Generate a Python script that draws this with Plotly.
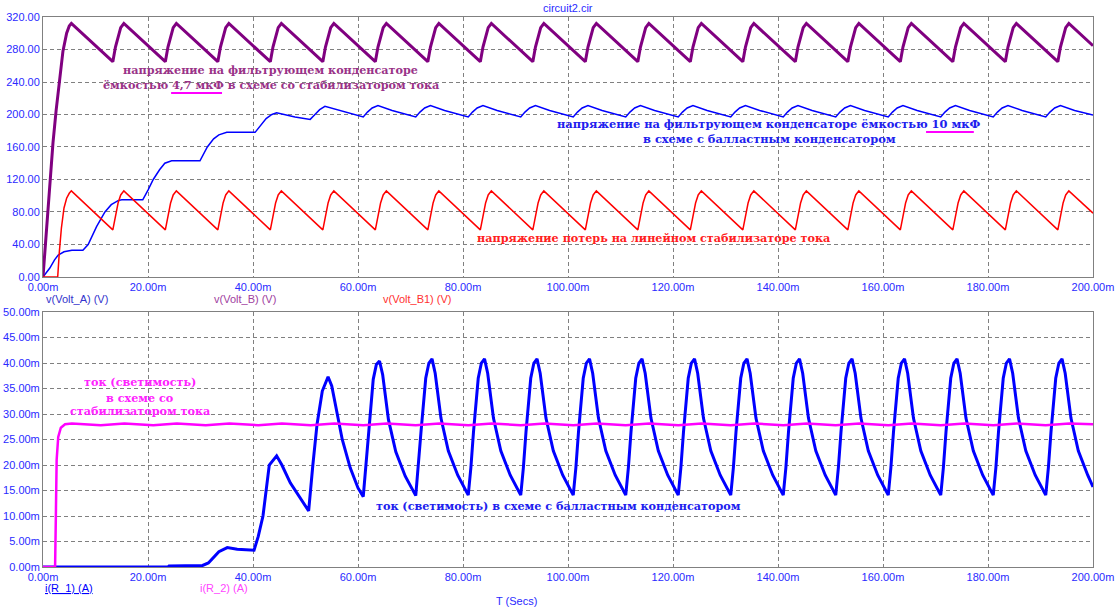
import plotly.graph_objects as go

# time axis in milliseconds, voltages in V, currents in mA

# v(Volt_B): filter cap 4.7uF, circuit with current stabilizer
vb_t = [0, 0.6, 1.3, 1.9, 2.5, 3.1, 3.8, 4.5, 5.0, 5.4,
        13.3, 13.8, 14.3, 14.8, 15.4,
        23.3, 23.8, 24.3, 24.8, 25.4,
        33.3, 33.8, 34.3, 34.8, 35.4,
        43.3, 43.8, 44.3, 44.8, 45.4,
        53.3, 53.8, 54.3, 54.8, 55.4,
        63.3, 63.8, 64.3, 64.8, 65.4,
        73.3, 73.8, 74.3, 74.8, 75.4,
        83.3, 83.8, 84.3, 84.8, 85.4,
        93.3, 93.8, 94.3, 94.8, 95.4,
        103.3, 103.8, 104.3, 104.8, 105.4,
        113.3, 113.8, 114.3, 114.8, 115.4,
        123.3, 123.8, 124.3, 124.8, 125.4,
        133.3, 133.8, 134.3, 134.8, 135.4,
        143.3, 143.8, 144.3, 144.8, 145.4,
        153.3, 153.8, 154.3, 154.8, 155.4,
        163.3, 163.8, 164.3, 164.8, 165.4,
        173.3, 173.8, 174.3, 174.8, 175.4,
        183.3, 183.8, 184.3, 184.8, 185.4,
        193.3, 193.8, 194.3, 194.8, 195.4,
        200.0]
vb_v = [0, 50, 118, 165, 205, 240, 278, 300, 309, 312,
        265, 283, 297, 307, 312,
        265, 283, 297, 307, 312,
        265, 283, 297, 307, 312,
        265, 283, 297, 307, 312,
        265, 283, 297, 307, 312,
        265, 283, 297, 307, 312,
        265, 283, 297, 307, 312,
        265, 283, 297, 307, 312,
        265, 283, 297, 307, 312,
        265, 283, 297, 307, 312,
        265, 283, 297, 307, 312,
        265, 283, 297, 307, 312,
        265, 283, 297, 307, 312,
        265, 283, 297, 307, 312,
        265, 283, 297, 307, 312,
        265, 283, 297, 307, 312,
        265, 283, 297, 307, 312,
        265, 283, 297, 307, 312,
        265, 283, 297, 307, 312,
        284.6]

# v(Volt_B1): loss voltage on the linear current stabilizer (same instants as vb)
vb1_t = [0, 2.8, 3.1, 3.5, 4.0, 4.5, 5.0] + vb_t[9:]
vb1_v = [0, 0, 30, 60, 85, 97, 103, 106,
         58, 77, 91, 101, 106,
         58, 77, 91, 101, 106,
         58, 77, 91, 101, 106,
         58, 77, 91, 101, 106,
         58, 77, 91, 101, 106,
         58, 77, 91, 101, 106,
         58, 77, 91, 101, 106,
         58, 77, 91, 101, 106,
         58, 77, 91, 101, 106,
         58, 77, 91, 101, 106,
         58, 77, 91, 101, 106,
         58, 77, 91, 101, 106,
         58, 77, 91, 101, 106,
         58, 77, 91, 101, 106,
         58, 77, 91, 101, 106,
         58, 77, 91, 101, 106,
         58, 77, 91, 101, 106,
         58, 77, 91, 101, 106,
         58, 77, 91, 101, 106,
         78.6]

# v(Volt_A): filter cap 10uF, circuit with ballast capacitor
va_t = [0, 1.3, 2.2, 2.9, 4.0, 5.5, 7.6, 8.6, 10.2, 11.8, 13.0, 14.3, 15.0, 19.0,
        20.0, 21.0, 22.2, 23.2, 24.5, 29.9, 31.3, 32.5, 33.5, 35.0, 40.4,
        41.5, 42.5, 43.6, 44.5, 48.0, 50.9, 51.8, 52.7, 53.7, 57.0, 61.0,
        61.8, 62.7, 63.8, 66.5, 71.0,
        71.8, 72.7, 73.8, 76.5, 81.0,
        81.8, 82.7, 83.8, 86.5, 91.0,
        91.8, 92.7, 93.8, 96.5, 101.0,
        101.8, 102.7, 103.8, 106.5, 111.0,
        111.8, 112.7, 113.8, 116.5, 121.0,
        121.8, 122.7, 123.8, 126.5, 131.0,
        131.8, 132.7, 133.8, 136.5, 141.0,
        141.8, 142.7, 143.8, 146.5, 151.0,
        151.8, 152.7, 153.8, 156.5, 161.0,
        161.8, 162.7, 163.8, 166.5, 171.0,
        171.8, 172.7, 173.8, 176.5, 181.0,
        181.8, 182.7, 183.8, 186.5, 191.0,
        191.8, 192.7, 193.8, 196.5, 200.0]
va_v = [0, 11, 21, 27, 31, 33, 33, 40, 62, 80, 89, 94, 95, 95,
        107, 120, 132, 140, 143, 143, 160, 170, 175, 178, 178,
        187, 195, 200, 202, 197, 194, 200, 206, 210, 204, 197,
        203, 208, 211, 205, 197,
        203, 208, 211, 205, 197,
        203, 208, 211, 205, 197,
        203, 208, 211, 205, 197,
        203, 208, 211, 205, 197,
        203, 208, 211, 205, 197,
        203, 208, 211, 205, 197,
        203, 208, 211, 205, 197,
        203, 208, 211, 205, 197,
        203, 208, 211, 205, 197,
        203, 208, 211, 205, 197,
        203, 208, 211, 205, 197,
        203, 208, 211, 205, 197,
        203, 208, 211, 205, 199.5]

# i(R_1): LED current, ballast capacitor circuit (mA)
ir1_t = [0, 23.8, 24.0, 30.4, 31.5, 32.5, 33.5, 35.1, 37.0, 40.2, 41.0, 41.9, 43.1, 44.5,
         45.5, 47.1, 49.0, 50.6, 51.4, 52.2, 53.2, 54.3, 55.0, 55.8, 57.0, 58.5, 60.0, 61.0,
         61.5, 62.0, 62.9, 63.5, 64.1, 64.7, 65.8, 67.2, 69.0, 71.0,
         71.5, 72.0, 72.9, 73.5, 74.1, 74.7, 75.8, 77.2, 79.0, 81.0,
         81.5, 82.0, 82.9, 83.5, 84.1, 84.7, 85.8, 87.2, 89.0, 91.0,
         91.5, 92.0, 92.9, 93.5, 94.1, 94.7, 95.8, 97.2, 99.0, 101.0,
         101.5, 102.0, 102.9, 103.5, 104.1, 104.7, 105.8, 107.2, 109.0, 111.0,
         111.5, 112.0, 112.9, 113.5, 114.1, 114.7, 115.8, 117.2, 119.0, 121.0,
         121.5, 122.0, 122.9, 123.5, 124.1, 124.7, 125.8, 127.2, 129.0, 131.0,
         131.5, 132.0, 132.9, 133.5, 134.1, 134.7, 135.8, 137.2, 139.0, 141.0,
         141.5, 142.0, 142.9, 143.5, 144.1, 144.7, 145.8, 147.2, 149.0, 151.0,
         151.5, 152.0, 152.9, 153.5, 154.1, 154.7, 155.8, 157.2, 159.0, 161.0,
         161.5, 162.0, 162.9, 163.5, 164.1, 164.7, 165.8, 167.2, 169.0, 171.0,
         171.5, 172.0, 172.9, 173.5, 174.1, 174.7, 175.8, 177.2, 179.0, 181.0,
         181.5, 182.0, 182.9, 183.5, 184.1, 184.7, 185.8, 187.2, 189.0, 191.0,
         191.5, 192.0, 192.9, 193.5, 194.1, 194.7, 195.8, 197.2, 199.0, 200.0]
ir1_v = [0, 0, 0.2, 0.3, 0.8, 1.8, 3.0, 3.8, 3.5, 3.3, 6.0, 10.0, 20.0, 21.8,
         20.0, 16.5, 13.5, 11.0, 20.0, 28.0, 34.5, 37.3, 35.5, 31.0, 25.0, 19.5, 15.5, 13.8,
         19.5, 26.5, 36.8, 39.7, 40.4, 37.7, 28.9, 22.6, 17.8, 14.0,
         19.5, 26.5, 37.0, 40.0, 40.8, 38.0, 29.2, 22.8, 18.0, 14.1,
         19.5, 26.5, 37.0, 40.0, 40.8, 38.0, 29.2, 22.8, 18.0, 14.1,
         19.5, 26.5, 37.0, 40.0, 40.8, 38.0, 29.2, 22.8, 18.0, 14.1,
         19.5, 26.5, 37.0, 40.0, 40.8, 38.0, 29.2, 22.8, 18.0, 14.1,
         19.5, 26.5, 37.0, 40.0, 40.8, 38.0, 29.2, 22.8, 18.0, 14.1,
         19.5, 26.5, 37.0, 40.0, 40.8, 38.0, 29.2, 22.8, 18.0, 14.1,
         19.5, 26.5, 37.0, 40.0, 40.8, 38.0, 29.2, 22.8, 18.0, 14.1,
         19.5, 26.5, 37.0, 40.0, 40.8, 38.0, 29.2, 22.8, 18.0, 14.1,
         19.5, 26.5, 37.0, 40.0, 40.8, 38.0, 29.2, 22.8, 18.0, 14.1,
         19.5, 26.5, 37.0, 40.0, 40.8, 38.0, 29.2, 22.8, 18.0, 14.1,
         19.5, 26.5, 37.0, 40.0, 40.8, 38.0, 29.2, 22.8, 18.0, 14.1,
         19.5, 26.5, 37.0, 40.0, 40.8, 38.0, 29.2, 22.8, 18.0, 14.1,
         19.5, 26.5, 37.0, 40.0, 40.8, 38.0, 29.2, 22.8, 18.0, 15.7]

# i(R_2): LED current, current stabilizer circuit (mA)
ir2_t = [0, 2.3, 2.45, 2.6, 2.9, 3.4, 4.2, 5.5,
         11.0, 15.5, 21.0, 25.5, 31.0, 35.5, 41.0, 45.5, 51.0, 55.5,
         61.0, 65.5, 71.0, 75.5, 81.0, 85.5, 91.0, 95.5, 101.0, 105.5,
         111.0, 115.5, 121.0, 125.5, 131.0, 135.5, 141.0, 145.5, 151.0, 155.5,
         161.0, 165.5, 171.0, 175.5, 181.0, 185.5, 191.0, 195.5, 200.0]
ir2_v = [0, 0, 10, 21, 25.5, 27.3, 28.0, 28.15,
         27.8, 28.15, 27.8, 28.15, 27.8, 28.15, 27.8, 28.15, 27.8, 28.15,
         27.8, 28.15, 27.8, 28.15, 27.8, 28.15, 27.8, 28.15, 27.8, 28.15,
         27.8, 28.15, 27.8, 28.15, 27.8, 28.15, 27.8, 28.15, 27.8, 28.15,
         27.8, 28.15, 27.8, 28.15, 27.8, 28.15, 27.8, 28.15, 28.0]

x_ticks = [0, 20, 40, 60, 80, 100, 120, 140, 160, 180, 200]
x_labels = ['0.00m', '20.00m', '40.00m', '60.00m', '80.00m', '100.00m',
            '120.00m', '140.00m', '160.00m', '180.00m', '200.00m']
v_ticks = [0, 40, 80, 120, 160, 200, 240, 280, 320]
v_labels = ['0.00', '40.00', '80.00', '120.00', '160.00', '200.00', '240.00', '280.00', '320.00']
i_ticks = [0, 5, 10, 15, 20, 25, 30, 35, 40, 45, 50]
i_labels = ['0.00m', '5.00m', '10.00m', '15.00m', '20.00m', '25.00m',
            '30.00m', '35.00m', '40.00m', '45.00m', '50.00m']

fig = go.Figure()
fig.add_trace(go.Scatter(x=va_t, y=va_v, mode='lines', line=dict(color='#0000ff', width=1.5)))
fig.add_trace(go.Scatter(x=vb_t, y=vb_v, mode='lines', line=dict(color='#800080', width=3)))
fig.add_trace(go.Scatter(x=vb1_t, y=vb1_v, mode='lines', line=dict(color='#ff0000', width=1.5)))
fig.add_trace(go.Scatter(x=ir1_t, y=ir1_v, mode='lines', line=dict(color='#0000ff', width=3),
                         xaxis='x2', yaxis='y2'))
fig.add_trace(go.Scatter(x=ir2_t, y=ir2_v, mode='lines', line=dict(color='#ff00ff', width=2.5),
                         xaxis='x2', yaxis='y2'))

tick_font = dict(family='Liberation Sans, Arial', size=11, color='#2a2aff')
common = dict(showline=True, mirror=True, linecolor='#808080', linewidth=1,
              showgrid=True, gridcolor='#808080', griddash='4px,3px', gridwidth=1,
              zeroline=False, ticks='', tickfont=tick_font, fixedrange=True,
              automargin=False)

fig.update_layout(
    width=1117, height=609,
    margin=dict(l=43, r=24, t=17, b=42),
    paper_bgcolor='white', plot_bgcolor='white',
    showlegend=False,
    xaxis=dict(domain=[0, 1], anchor='y', range=[0, 200],
               tickvals=x_ticks, ticktext=x_labels, **common),
    yaxis=dict(domain=[0.5273, 1], anchor='x', range=[0, 320],
               tickvals=v_ticks, ticktext=v_labels, **common),
    xaxis2=dict(domain=[0, 1], anchor='y2', range=[0, 200],
                tickvals=x_ticks, ticktext=x_labels, **common),
    yaxis2=dict(domain=[0, 0.4636], anchor='x2', range=[0, 50],
                tickvals=i_ticks, ticktext=i_labels, **common),
)

serif = 'DejaVu Serif'
notes = [
    # top chart, data coordinates
    ('x', 'y', 43.4, 254.8, 'напряжение на фильтрующем конденсаторе', '#993388', 11.2),
    ('x', 'y', 43.4, 236.3, 'ёмкостью 4,7 мкФ в схеме со стабилизатором тока', '#993388', 11.2),
    ('x', 'y', 138.3, 188.3, 'напряжение на фильтрующем конденсаторе ёмкостью 10 мкФ', '#2020ee', 11.4),
    ('x', 'y', 138.3, 169.8, 'в схеме с балластным конденсатором', '#2020ee', 11.4),
    ('x', 'y', 116.3, 48.0, 'напряжение потерь на линейном стабилизаторе тока', '#ff2020', 11.2),
    # bottom chart
    ('x2', 'y2', 18.4, 36.2, 'ток (светимость)', '#ff22ff', 11.2),
    ('x2', 'y2', 18.4, 33.2, 'в схеме со', '#ff22ff', 11.2),
    ('x2', 'y2', 18.4, 30.5, 'стабилизатором тока', '#ff22ff', 11.2),
    ('x2', 'y2', 98.1, 12.0, 'ток (светимость) в схеме с балластным конденсатором', '#2020ee', 11.2),
]
for xr, yr, x, y, txt, col, sz in notes:
    fig.add_annotation(xref=xr, yref=yr, x=x, y=y, text='<b>' + txt + '</b>', showarrow=False,
                       xanchor='center', yanchor='middle',
                       font=dict(family=serif, size=sz, color=col))

# magenta underlines below the capacitance values
fig.add_shape(type='line', xref='x', yref='y', x0=24.4, x1=34.1, y0=226.5, y1=226.5,
              line=dict(color='#ff00ff', width=2))
fig.add_shape(type='line', xref='x', yref='y', x0=168.2, x1=177.3, y0=178.5, y1=178.5,
              line=dict(color='#ff00ff', width=2))

label_font = 'Liberation Sans, Arial'
labels = [
    (0.001, 0.4873, 'v(Volt_A) (V)', '#3333cc', 'left'),
    (0.161, 0.4873, 'v(Volt_B) (V)', '#a040a0', 'left'),
    (0.322, 0.4873, 'v(Volt_B1) (V)', '#ff3030', 'left'),
    (0.0, -0.0382, '<u>i(R_1) (A)</u>', '#0000ff', 'left'),
    (0.1476, -0.0382, 'i(R_2) (A)', '#ff44ff', 'left'),
    (0.4505, -0.0618, 'T (Secs)', '#2a2aff', 'center'),
    (0.5, 1.0164, 'circuit2.cir', '#2a2aff', 'center'),
]
for x, y, txt, col, anc in labels:
    fig.add_annotation(xref='paper', yref='paper', x=x, y=y, text=txt, showarrow=False,
                       xanchor=anc, yanchor='middle',
                       font=dict(family=label_font, size=11, color=col))

# drop the default 8px page margin so the figure sits at the window corner
fig.write_html('out.html', config={'displayModeBar': False},
               post_script="document.body.style.margin = '0';")
